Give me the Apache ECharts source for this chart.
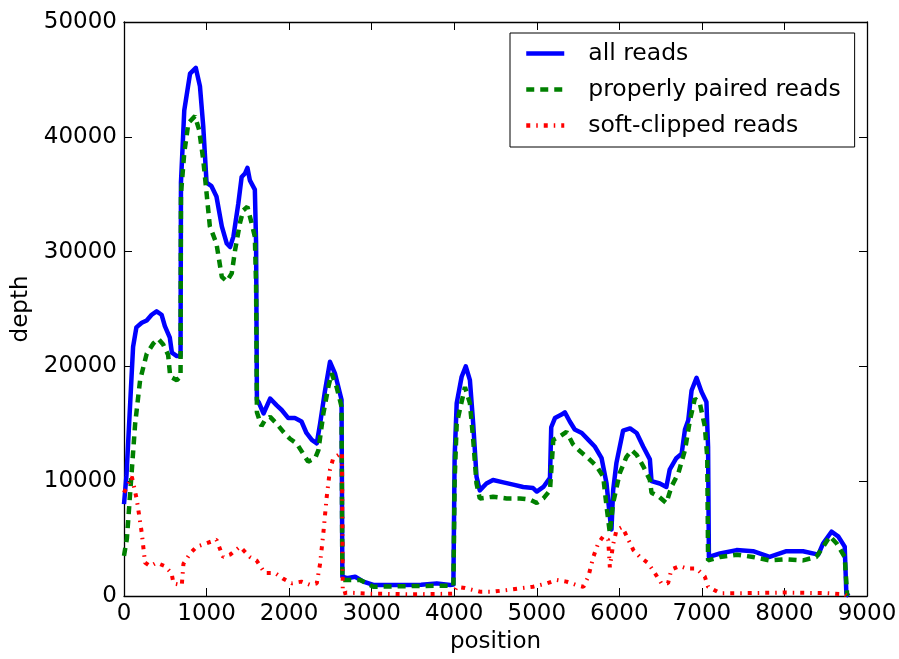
<!DOCTYPE html>
<html>
<head>
<meta charset="utf-8">
<script src="https://cdn.jsdelivr.net/npm/echarts@6/dist/echarts.min.js"></script>
<style>
html,body{margin:0;padding:0;background:#fff;}
#chart{width:899px;height:659px;}
</style>
</head>
<body>
<div id="chart"></div>
<script>
// ---- data ----
var seriesNames = ['all reads', 'properly paired reads', 'soft-clipped reads'];
var xTicks = [0, 1000, 2000, 3000, 4000, 5000, 6000, 7000, 8000, 9000];
var yTicks = [0, 10000, 20000, 30000, 40000, 50000];

var posAll = [0,30,110,150,215,275,335,395,455,495,555,580,640,685,690,730,800,870,920,960,1000,1060,1120,1185,1245,1285,1325,1385,1425,1465,1495,1525,1585,1600,1610,1630,1690,1770,1850,1910,1990,2070,2150,2210,2275,2335,2375,2435,2495,2555,2635,2645,2700,2800,2900,3020,3200,3400,3600,3790,3950,3990,4005,4030,4090,4140,4190,4230,4270,4310,4390,4470,4595,4715,4835,4955,5000,5080,5160,5175,5220,5300,5340,5400,5460,5545,5625,5705,5785,5845,5885,5905,5925,5965,6045,6130,6210,6290,6370,6390,6490,6570,6610,6690,6755,6795,6835,6875,6935,6995,7055,7075,7085,7220,7420,7620,7820,8025,8225,8410,8470,8570,8650,8730,8750,8780];
var depthAll = [8000,10500,21700,23400,23800,24000,24500,24800,24500,23500,22500,21200,20900,20900,36000,42300,45500,46000,44400,40900,36000,35700,34800,32200,30700,30400,31300,34200,36500,36800,37300,36200,35400,30700,17100,16900,15900,17200,16600,16200,15500,15500,15200,14200,13600,13300,15000,17900,20400,19400,17100,1700,1550,1680,1250,960,950,950,980,1100,960,1000,12100,16800,19100,20000,18800,15000,10400,9200,9800,10100,9900,9700,9500,9400,9100,9500,10300,14700,15500,15800,16000,15200,14500,14200,13600,13000,12000,9800,6900,5800,9200,11600,14400,14600,14200,13000,11900,10000,9800,9500,11000,12000,12400,14500,15300,17900,19000,17800,16900,13000,3400,3700,4000,3900,3400,3900,3900,3600,4600,5600,5200,4300,200,0];

var posPaired = [0,35,75,135,195,275,355,415,475,535,560,640,685,690,730,780,860,910,960,1000,1040,1120,1185,1245,1305,1345,1405,1445,1495,1545,1585,1600,1610,1665,1705,1770,1850,1930,2010,2090,2170,2230,2315,2355,2415,2475,2515,2575,2635,2645,2700,2860,3020,3400,3800,3990,4005,4030,4130,4190,4230,4270,4310,4470,4635,4795,4915,5000,5080,5160,5200,5280,5360,5440,5525,5625,5725,5805,5845,5885,5925,6005,6085,6150,6210,6290,6370,6390,6470,6570,6630,6715,6795,6855,6915,6975,7035,7065,7075,7220,7420,7620,7820,8025,8225,8385,8470,8550,8630,8730,8760];
var depthPaired = [3500,5000,9000,15000,18800,21100,22000,22400,21900,21000,19100,18800,19100,35000,38600,41200,41800,40600,38000,35100,32200,30700,27800,27400,28100,30100,32500,33600,33900,32500,31300,27000,16000,14800,15300,15600,15000,14300,13700,13300,12400,11700,12000,12700,15900,18200,19400,18200,16500,1400,1400,1400,810,850,900,900,10000,15000,18200,16800,13600,9800,8500,8650,8500,8500,8400,8100,8500,9200,13600,13900,14300,13200,12600,12000,11300,10400,7800,5500,8100,10700,12100,12700,12300,11300,10100,9000,8700,8100,9500,10700,12700,15300,17200,16800,14800,12100,3100,3400,3600,3400,3100,3200,3100,3400,4300,5200,4600,3400,0];

var posClip = [0,35,95,155,215,255,315,395,495,575,600,700,720,800,880,1000,1120,1200,1285,1405,1525,1605,1705,1830,1930,2030,2150,2255,2335,2375,2415,2455,2495,2535,2600,2640,2650,2700,3000,3500,3990,4030,4130,4310,4475,4635,4795,4955,5120,5240,5360,5480,5565,5625,5685,5745,5805,5865,5885,5925,5966,6030,6070,6170,6250,6350,6430,6510,6590,6630,6730,6815,6935,7035,7075,7220,7500,8000,8500,8730,8760];
var depthClip = [9000,9500,10400,8400,5500,2900,2600,2900,2600,2000,1100,950,2800,3700,4300,4600,4900,3400,3600,4300,3400,3100,2000,2000,1500,1100,1250,960,1100,2800,5500,8600,11000,12000,12300,12500,200,300,200,150,200,800,700,380,380,520,670,810,1100,1400,1250,950,800,1700,3400,4600,5200,4900,2500,4500,5750,6000,5500,4000,3400,2850,2000,1100,1100,2300,2600,2400,2400,1700,800,250,250,300,250,150,0];

function pairs(xs, ys) { return xs.map(function (x, i) { return [x, ys[i]]; }); }

var FONT = 'DejaVu Sans';
var chart = echarts.init(document.getElementById('chart'), null, {renderer: 'canvas'});

var tickStyle = {show: true, inside: true, length: 8, lineStyle: {color: '#000', width: 1}};
var lineAxis = {show: true, onZero: false, lineStyle: {color: '#000', width: 1.3}};
var labelStyle = {fontFamily: FONT, fontSize: 23, color: '#000', formatter: function (v) { return String(v); }};

chart.setOption({
  animation: false,
  backgroundColor: '#fff',
  grid: {left: 124, right: 32, top: 22, bottom: 63, containLabel: false, outerBoundsMode: 'none'},
  legend: {
    orient: 'vertical',
    left: 510,
    top: 33,
    padding: [8, 14, 9, 14],
    itemGap: 11,
    itemWidth: 38,
    itemHeight: 14,
    borderColor: '#000',
    borderWidth: 1,
    backgroundColor: '#fff',
    itemStyle: {opacity: 0},
    lineStyle: {width: 4.5},
    textStyle: {fontFamily: FONT, fontSize: 23.5, color: '#000', lineHeight: 25, padding: [0, 0, 0, 19]},
    data: seriesNames
  },
  xAxis: [{
    type: 'value', min: xTicks[0], max: xTicks[xTicks.length - 1], interval: 1000,
    name: 'position', nameLocation: 'middle', nameGap: 30,
    nameTextStyle: {fontFamily: FONT, fontSize: 23, color: '#000'},
    axisLine: lineAxis, axisTick: tickStyle,
    axisLabel: Object.assign({margin: 7}, labelStyle),
    splitLine: {show: false}
  }, {
    type: 'value', position: 'top', min: xTicks[0], max: xTicks[xTicks.length - 1], interval: 1000,
    axisLine: lineAxis, axisTick: tickStyle, axisLabel: {show: false}, splitLine: {show: false}
  }],
  yAxis: [{
    type: 'value', min: yTicks[0], max: yTicks[yTicks.length - 1], interval: 10000,
    name: 'depth', nameLocation: 'middle', nameGap: 84,
    nameTextStyle: {fontFamily: FONT, fontSize: 23, color: '#000'},
    axisLine: lineAxis, axisTick: tickStyle,
    axisLabel: Object.assign({margin: 7}, labelStyle),
    splitLine: {show: false}
  }, {
    type: 'value', position: 'right', min: yTicks[0], max: yTicks[yTicks.length - 1], interval: 10000,
    axisLine: lineAxis, axisTick: tickStyle, axisLabel: {show: false}, splitLine: {show: false}
  }],
  series: [{
    name: seriesNames[0], type: 'line', symbol: 'none', showSymbol: false,
    data: pairs(posAll, depthAll),
    lineStyle: {color: '#0000ff', width: 4.5, type: 'solid', join: 'round'},
    itemStyle: {color: '#0000ff'}, z: 2
  }, {
    name: seriesNames[1], type: 'line', symbol: 'none', showSymbol: false,
    data: pairs(posPaired, depthPaired),
    lineStyle: {color: '#008000', width: 4.5, type: [8, 6]},
    itemStyle: {color: '#008000'}, z: 3
  }, {
    name: seriesNames[2], type: 'line', symbol: 'none', showSymbol: false,
    data: pairs(posClip, depthClip),
    lineStyle: {color: '#ff0000', width: 4, type: [4, 6, 1.5, 6]},
    itemStyle: {color: '#ff0000'}, z: 4
  }]
});
</script>
</body>
</html>
